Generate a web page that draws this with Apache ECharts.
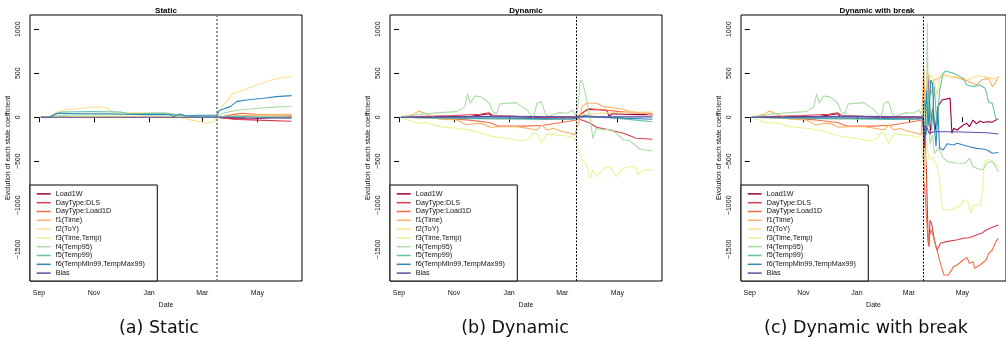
<!DOCTYPE html>
<html>
<head>
<meta charset="utf-8">
<script src="https://cdn.jsdelivr.net/npm/echarts@6/dist/echarts.min.js"></script>
<style>
html,body{margin:0;padding:0;background:#fff;}
#c{width:1006px;height:340px;}
</style>
</head>
<body>
<div id="c"></div>
<script>
// ---- categories / ticks ----
const seriesNames = ['Load1W','DayType:DLS','DayType:Load1D','f1(Time)','f2(ToY)','f3(Time,Temp)','f4(Temp95)','f5(Temp99)','f6(TempMin99,TempMax99)','Bias'];
const seriesColors = ['#9E0142','#D53E4F','#F46D43','#FDAE61','#FEE08B','#E6F598','#ABDDA4','#66C2A5','#3288BD','#5E4FA2'];
const xTickDays = [0, 61, 122, 181, 242];          // days since 1 Sep
const xTickLabels = ['Sep','Nov','Jan','Mar','May'];
const yTicks = [-1500, -1000, -500, 0, 500, 1000];
const breakDay = 197;                               // ~17 Mar
const panelTitles = ['Static','Dynamic','Dynamic with break'];
const panelCaptions = ['(a) Static','(b) Dynamic','(c) Dynamic with break'];

// ---- Static panel: [day, value] ----
const stLoad1W = [[2,0],[100,-3],[197,0],[215,-15],[235,-20],[255,-5],[280,10]];
const stDLS    = [[2,0],[197,0],[205,-10],[220,-25],[250,-35],[280,-45]];
const stLoad1D = [[2,0],[197,0],[205,10],[215,30],[225,45],[240,35],[260,25],[280,25]];
const stF1     = [[2,0],[197,0],[210,10],[240,25],[280,35]];
const stF2     = [[2,0],[12,5],[18,50],[27,83],[45,100],[64,120],[75,110],[80,65],[90,50],[120,50],[140,45],[145,26],[153,8],[164,-23],[178,-49],[186,-68],[193,-50],[197,-10],[202,120],[208,178],[215,273],[227,310],[241,367],[256,417],[271,455],[280,462]];
const stF3     = [[2,0],[60,10],[120,15],[160,5],[197,0],[240,10],[280,15]];
const stF4     = [[2,0],[30,25],[80,30],[110,40],[140,50],[160,20],[190,10],[197,10],[205,50],[220,80],[240,100],[260,115],[280,125]];
const stF5     = [[2,0],[10,0],[25,60],[60,65],[90,60],[100,40],[130,45],[150,30],[170,10],[197,5],[220,10],[250,5],[280,0]];
const stF6     = [[2,0],[12,0],[20,45],[50,40],[79,40],[93,34],[120,30],[145,30],[149,8],[156,38],[164,15],[175,23],[197,23],[200,76],[212,121],[219,178],[230,197],[249,216],[263,235],[280,246]];
const stBias   = [[2,0],[197,0],[230,-5],[280,-10]];

// ---- Dynamic models, before the break (same in both dynamic panels) ----
const preLoad1W = [[2,0],[40,5],[80,10],[100,40],[103,10],[140,5],[160,-10],[180,0],[197,0]];
const preDLS    = [[2,0],[30,10],[60,20],[90,35],[100,50],[105,20],[130,10],[160,0],[190,-10],[197,-10]];
const preLoad1D = [[2,0],[40,-10],[75,-30],[100,-60],[110,-100],[140,-100],[160,-90],[180,-60],[197,-30]];
const preF1     = [[2,0],[15,30],[22,70],[30,40],[45,-23],[64,-30],[75,-87],[86,-68],[93,-75],[101,-114],[112,-106],[130,-106],[142,-125],[153,-144],[158,-87],[164,-144],[171,-125],[178,-152],[190,-182],[195,-200],[197,-180]];
const preF2     = [[2,0],[60,-10],[120,-20],[197,-20]];
const preF3     = [[2,0],[20,-68],[30,-60],[45,-106],[64,-125],[82,-152],[101,-212],[119,-239],[138,-269],[145,-239],[149,-174],[153,-185],[158,-295],[164,-189],[175,-200],[186,-212],[195,-239],[197,-260]];
const preF4     = [[2,0],[20,30],[45,53],[64,64],[73,121],[76,265],[79,160],[84,242],[90,235],[97,190],[101,140],[104,64],[108,38],[112,152],[130,167],[136,121],[142,83],[149,-11],[153,159],[158,178],[162,45],[165,10],[178,53],[186,45],[193,83],[197,-11]];
const preF5     = [[2,0],[40,-10],[80,-15],[120,-20],[160,-25],[197,-20]];
const preF6     = [[2,0],[60,-5],[120,-10],[160,-15],[190,-20],[197,-10]];
const preBias   = [[2,0],[60,5],[120,10],[197,5]];

// ---- Dynamic, after the break ----
const dynLoad1W = [[201,30],[205,60],[210,90],[220,85],[230,80],[233,10],[236,40],[250,35],[265,30],[281,30]];
const dynDLS    = [[205,-40],[212,-68],[219,-114],[234,-144],[249,-182],[263,-239],[281,-250]];
const dynLoad1D = [[203,50],[210,100],[220,90],[240,70],[260,50],[281,45]];
const dynF1     = [[199,-68],[203,121],[208,159],[219,159],[227,121],[241,102],[249,91],[256,64],[271,45],[281,26]];
const dynF2     = [[205,30],[230,50],[260,60],[281,60]];
const dynF3     = [[199,-371],[203,-485],[208,-542],[212,-693],[215,-598],[219,-674],[227,-580],[234,-560],[241,-674],[249,-580],[256,-560],[262,-560],[265,-644],[271,-598],[281,-598]];
const dynF4     = [[201,424],[204,386],[208,197],[212,-30],[215,-239],[219,-125],[227,-144],[234,-136],[241,-182],[249,-258],[256,-265],[267,-360],[281,-383]];
const dynF5     = [[205,10],[220,0],[240,-10],[260,-30],[281,-50]];
const dynF6     = [[205,20],[220,5],[250,-10],[281,-23]];
const dynBias   = [[240,5],[281,5]];

// ---- Dynamic with break, after the break ----
const brkLoad1W = [[199,-350],[201,100],[203,470],[205,-200],[208,100],[211,-150],[214,120],[219,200],[221,215],[228,215],[230,-182],[232,-126],[236,-145],[243,-88],[247,-69],[250,-107],[254,-31],[258,-75],[262,-42],[266,-60],[270,-50],[276,-55],[280,-30],[283,-20]];
const brkDLS    = [[199,-200],[201,-600],[203,-1400],[204,-1470],[205,-1170],[207,-1210],[210,-1394],[213,-1508],[217,-1432],[224,-1413],[235,-1394],[243,-1375],[250,-1368],[258,-1337],[265,-1311],[269,-1280],[276,-1250],[283,-1224]];
const brkLoad1D = [[199,-800],[203,-1432],[206,-1280],[209,-1350],[213,-1508],[215,-1583],[218,-1697],[221,-1792],[226,-1792],[232,-1697],[236,-1678],[243,-1621],[247,-1591],[250,-1659],[254,-1640],[256,-1716],[262,-1678],[269,-1621],[272,-1546],[276,-1508],[280,-1413],[283,-1375]];
const brkF1     = [[198,560],[200,-100],[202,400],[204,480],[206,250],[210,424],[214,440],[221,480],[228,461],[236,450],[250,405],[258,367],[265,430],[272,442],[276,348],[280,400],[283,465]];
const brkF2     = [[199,200],[202,500],[205,490],[210,420],[213,250],[217,480],[225,470],[235,461],[250,430],[258,470],[265,465],[276,442],[283,440]];
const brkF3     = [[199,-750],[201,-300],[204,-480],[208,-450],[212,-523],[215,-637],[219,-1015],[221,-1053],[230,-1053],[236,-1015],[241,-996],[243,-940],[248,-959],[252,-1091],[254,-996],[262,-996],[265,-826],[267,-500],[272,-480],[278,-520],[283,-560]];
const brkF4     = [[201,-200],[202,1068],[203,200],[205,-300],[208,-200],[210,-409],[215,-350],[220,-460],[225,-504],[235,-520],[245,-523],[250,-466],[254,-560],[258,-580],[265,-599],[270,-520],[276,-500],[283,-618]];
const brkF5     = [[199,200],[201,-200],[204,300],[207,-150],[210,350],[213,-100],[216,300],[220,499],[223,526],[232,499],[243,442],[247,367],[254,348],[262,367],[268,329],[272,170],[276,158],[280,-12],[283,-31]];
const brkF6     = [[199,-200],[201,300],[203,-100],[206,420],[208,380],[210,-100],[212,-330],[214,100],[216,-350],[220,-372],[225,-300],[232,-315],[236,-296],[245,-320],[250,-334],[258,-353],[265,-360],[270,-372],[276,-409],[283,-400]];
const brkBias   = [[199,-250],[201,-100],[204,-180],[210,-165],[230,-165],[250,-170],[270,-175],[283,-190]];

const staticData = [stLoad1W,stDLS,stLoad1D,stF1,stF2,stF3,stF4,stF5,stF6,stBias];
const preData = [preLoad1W,preDLS,preLoad1D,preF1,preF2,preF3,preF4,preF5,preF6,preBias];
const dynPost = [dynLoad1W,dynDLS,dynLoad1D,dynF1,dynF2,dynF3,dynF4,dynF5,dynF6,dynBias];
const brkPost = [brkLoad1W,brkDLS,brkLoad1D,brkF1,brkF2,brkF3,brkF4,brkF5,brkF6,brkBias];

const panelData = [
  staticData,
  preData.map((d,i)=>d.concat(dynPost[i])),
  preData.map((d,i)=>d.concat(brkPost[i]))
];

// ---- layout ----
const gridLefts = [30, 390, 741];
const titleX = [166, 526, 877];
const captionX = [159, 515, 866];
const FONT = '"Liberation Sans", Arial, sans-serif';
const minus = v => v < 0 ? '\u2212' + Math.abs(v) : String(v);

const grids = [], xAxes = [], yAxes = [], series = [], legends = [], graphics = [];
for (let p = 0; p < 3; p++) {
  grids.push({left: gridLefts[p], top: 15, width: 272, height: 266, show: true,
    borderColor: '#000', borderWidth: 1, backgroundColor: 'transparent'});
  xAxes.push({type: 'value', gridIndex: p, min: -10, max: 291.6,
    axisLine: {show: false}, splitLine: {show: false},
    axisTick: {show: true, inside: false, length: 5, customValues: xTickDays, lineStyle: {color: '#000', width: 1}},
    axisLabel: {customValues: xTickDays, formatter: v => xTickLabels[xTickDays.indexOf(v)] || '',
      fontSize: 7, margin: 9, color: '#111', fontFamily: FONT},
    name: 'Date', nameLocation: 'middle', nameGap: 18,
    nameTextStyle: {fontSize: 7, color: '#111', fontFamily: FONT}});
  yAxes.push({type: 'value', gridIndex: p, min: -1860, max: 1162,
    axisLine: {show: false}, splitLine: {show: false},
    axisTick: {show: true, inside: false, length: 5, customValues: yTicks, lineStyle: {color: '#000', width: 1}},
    axisLabel: {customValues: yTicks, rotate: 90, formatter: minus,
      fontSize: 7, margin: 8, color: '#111', fontFamily: FONT},
    name: 'Evolution of each state coefficient', nameLocation: 'middle', nameGap: 18, nameRotate: 90,
    nameTextStyle: {fontSize: 7, color: '#111', fontFamily: FONT}});
  for (let i = 0; i < 10; i++) {
    const s = {type: 'line', name: seriesNames[i], xAxisIndex: p, yAxisIndex: p,
      data: panelData[p][i], symbol: 'none', showSymbol: false, animation: false,
      lineStyle: {width: 1.1, color: seriesColors[i]}, itemStyle: {color: seriesColors[i]},
      emphasis: {disabled: true}};
    if (i === 0) {
      s.markLine = {silent: true, symbol: ['none','none'], label: {show: false}, animation: false,
        lineStyle: p === 0 ? {type: [2,2], color: '#777', width: 1.6} : {type: [2,1.5], color: '#000', width: 1},
        data: [{xAxis: breakDay}]};
    }
    series.push(s);
  }
  legends.push({orient: 'vertical', left: gridLefts[p], top: 185, z: 5,
    icon: 'rect', itemWidth: 14, itemHeight: 1.5, itemGap: 0, padding: [4.5, 12.5, 3.5, 6.7],
    borderColor: '#000', borderWidth: 1, backgroundColor: '#fff', selectedMode: false,
    textStyle: {fontSize: 7.2, lineHeight: 8.8, color: '#111', fontFamily: FONT},
    data: seriesNames.slice()});
  graphics.push({type: 'text', x: titleX[p], y: 11, z: 10,
    style: {text: panelTitles[p], font: 'bold 8px ' + FONT, fill: '#000',
      align: 'center', verticalAlign: 'middle', textAlign: 'center', textVerticalAlign: 'middle'}});
  graphics.push({type: 'text', x: captionX[p], y: 328, z: 10,
    style: {text: panelCaptions[p], font: '17.5px "DejaVu Sans", sans-serif', fill: '#111',
      align: 'center', verticalAlign: 'middle', textAlign: 'center', textVerticalAlign: 'middle'}});
}

const chart = echarts.init(document.getElementById('c'), null, {renderer: 'canvas'});
chart.setOption({
  animation: false,
  backgroundColor: '#fff',
  grid: grids, xAxis: xAxes, yAxis: yAxes, series: series, legend: legends, graphic: graphics
});
</script>
</body>
</html>
